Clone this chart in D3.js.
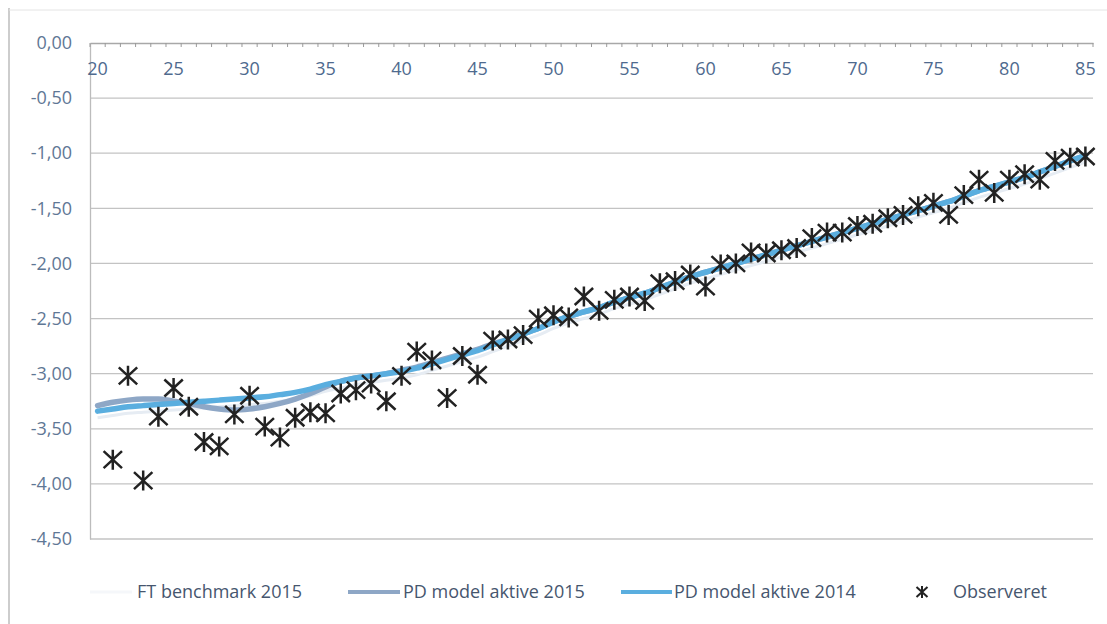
<!DOCTYPE html>
<html><head><meta charset="utf-8">
<script src="https://cdn.jsdelivr.net/npm/d3@7"></script>
<style>
html,body{margin:0;padding:0;background:#fff;}
svg{display:block;font-family:"Open Sans",sans-serif;}
</style></head>
<body>
<svg id="chart" width="1107" height="624"></svg>
<script>
const ages = d3.range(20, 86);
const yTicks = [0, -0.5, -1, -1.5, -2, -2.5, -3, -3.5, -4, -4.5];
const xLabelAges = [20,25,30,35,40,45,50,55,60,65,70,75,80,85];

const seriesNames = ["FT benchmark 2015", "PD model aktive 2015", "PD model aktive 2014", "Observeret"];

const ftBenchmark2015 = [-3.40,-3.38,-3.36,-3.35,-3.34,-3.33,-3.32,-3.31,-3.30,-3.29,-3.28,-3.27,-3.25,-3.23,-3.20,-3.16,-3.13,-3.10,-3.08,-3.06,-3.04,-3.01,-2.97,-2.93,-2.89,-2.85,-2.80,-2.75,-2.70,-2.65,-2.59,-2.54,-2.50,-2.46,-2.41,-2.37,-2.33,-2.28,-2.23,-2.18,-2.14,-2.10,-2.06,-2.02,-1.98,-1.94,-1.90,-1.86,-1.82,-1.78,-1.74,-1.70,-1.66,-1.62,-1.58,-1.54,-1.50,-1.45,-1.40,-1.36,-1.32,-1.28,-1.23,-1.18,-1.13,-1.08];

const pdAktive2015 = [-3.29,-3.26,-3.24,-3.23,-3.23,-3.25,-3.27,-3.30,-3.32,-3.33,-3.32,-3.30,-3.27,-3.23,-3.18,-3.12,-3.07,-3.04,-3.02,-3.00,-2.97,-2.94,-2.90,-2.86,-2.82,-2.78,-2.73,-2.69,-2.64,-2.59,-2.53,-2.48,-2.44,-2.40,-2.35,-2.31,-2.27,-2.22,-2.17,-2.12,-2.08,-2.04,-2.00,-1.96,-1.92,-1.88,-1.84,-1.80,-1.76,-1.72,-1.68,-1.64,-1.60,-1.56,-1.52,-1.48,-1.44,-1.39,-1.34,-1.30,-1.26,-1.22,-1.17,-1.12,-1.07,-1.02];

const pdAktive2014 = [-3.34,-3.32,-3.30,-3.29,-3.28,-3.27,-3.26,-3.25,-3.24,-3.23,-3.22,-3.21,-3.19,-3.17,-3.14,-3.10,-3.07,-3.04,-3.02,-3.00,-2.98,-2.95,-2.91,-2.87,-2.83,-2.79,-2.74,-2.69,-2.64,-2.59,-2.53,-2.48,-2.44,-2.40,-2.35,-2.31,-2.27,-2.22,-2.17,-2.12,-2.08,-2.04,-2.00,-1.96,-1.92,-1.88,-1.84,-1.80,-1.76,-1.72,-1.68,-1.64,-1.60,-1.56,-1.52,-1.48,-1.44,-1.39,-1.34,-1.30,-1.26,-1.22,-1.17,-1.12,-1.07,-1.02];

const obsAges = d3.range(21, 86);
const observeret = [-3.78,-3.02,-3.97,-3.39,-3.13,-3.30,-3.62,-3.66,-3.37,-3.20,-3.48,-3.58,-3.40,-3.35,-3.36,-3.18,-3.15,-3.09,-3.25,-3.02,-2.80,-2.88,-3.22,-2.84,-3.01,-2.70,-2.69,-2.65,-2.50,-2.47,-2.49,-2.30,-2.43,-2.33,-2.30,-2.34,-2.18,-2.16,-2.10,-2.21,-2.01,-2.00,-1.90,-1.91,-1.88,-1.86,-1.77,-1.72,-1.72,-1.66,-1.64,-1.59,-1.56,-1.48,-1.45,-1.56,-1.38,-1.24,-1.36,-1.24,-1.19,-1.24,-1.07,-1.04,-1.03];

const svg = d3.select("#chart");
const pL = 90, pR = 1093, pT = 43, pB = 539;
const x = d3.scaleBand().domain(ages).range([pL, pR]);
const y = d3.scaleLinear().domain([-4.5, 0]).range([pB, pT]);
const cx = a => x(a) + x.bandwidth() / 2;
const FS = 18;

// scan frame
svg.append("line").attr("x1", 9).attr("x2", 9).attr("y1", 8).attr("y2", 624).attr("stroke", "#bdbdbd").attr("stroke-width", 1.5);
svg.append("line").attr("x1", 9).attr("x2", 1107).attr("y1", 10).attr("y2", 10).attr("stroke", "#e4e4e4").attr("stroke-width", 1);

// gridlines
svg.append("g").selectAll("line").data(yTicks.filter(v => v !== 0)).join("line")
  .attr("x1", pL).attr("x2", pR)
  .attr("y1", d => y(d)).attr("y2", d => y(d))
  .attr("stroke", "#c3c3c3").attr("stroke-width", 1.3);

// y axis
const yAxis = d3.axisLeft(y).tickValues(yTicks).tickSize(0).tickPadding(18)
  .tickFormat(d => d3.format(".2f")(d).replace(".", ",").replace("−", "-"));
const gy = svg.append("g").attr("transform", `translate(${pL},0)`).call(yAxis);
gy.select(".domain").attr("stroke", "#bcbcbc").attr("stroke-width", 1.3);
gy.selectAll("text").attr("fill", "#5f7795").attr("font-size", FS).attr("font-family", "Open Sans");

// x axis at top (y=0)
const xAxis = d3.axisBottom(x).tickValues(xLabelAges).tickSize(0).tickPadding(19);
const gx = svg.append("g").attr("transform", `translate(0,${y(0)})`).call(xAxis);
gx.select(".domain").attr("stroke", "#a8a8a8").attr("stroke-width", 1.3);
gx.selectAll("text").attr("fill", "#4f6a8e").attr("font-size", FS).attr("font-family", "Open Sans");
// minor tick marks between categories
svg.append("g").selectAll("line").data(ages.concat([86])).join("line")
  .attr("x1", d => d === 86 ? pR : x(d)).attr("x2", d => d === 86 ? pR : x(d))
  .attr("y1", y(0)).attr("y2", y(0) + 4)
  .attr("stroke", "#9a9a9a").attr("stroke-width", 1);

// lines
const line = d3.line().x((d, i) => cx(ages[i])).y(d => y(d)).curve(d3.curveMonotoneX);
svg.append("path").datum(ftBenchmark2015).attr("d", line)
  .attr("fill", "none").attr("stroke", "#e6ecf3").attr("stroke-width", 3);
svg.append("path").datum(pdAktive2015).attr("d", line)
  .attr("fill", "none").attr("stroke", "#8ea7c6").attr("stroke-width", 5.5).attr("stroke-linecap", "round");
svg.append("path").datum(pdAktive2014).attr("d", line)
  .attr("fill", "none").attr("stroke", "#5aaedf").attr("stroke-width", 5.5).attr("stroke-linecap", "round");

// star markers
const pts = svg.append("g").selectAll("g").data(observeret).join("g")
  .attr("transform", (d, i) => `translate(${cx(obsAges[i])},${y(d)})`);
pts.each(function () {
  const g = d3.select(this);
  const s = 20, r = s / 2, dx = r * 0.92;
  g.append("path")
    .attr("d", `M0,${-r}L0,${r}M${-dx},${-r*0.85}L${dx},${r*0.85}M${-dx},${r*0.85}L${dx},${-r*0.85}`)
    .attr("stroke", "#222").attr("stroke-width", 2.5).attr("fill", "none");
});

// legend
const lg = svg.append("g").attr("font-size", FS).attr("fill", "#46566e").attr("font-family", "Open Sans");
const ly = 592;
lg.append("line").attr("x1", 90).attr("x2", 132).attr("y1", ly).attr("y2", ly).attr("stroke", "#f5f7fa").attr("stroke-width", 3);
lg.append("text").attr("x", 137).attr("y", ly).attr("dy", "0.35em").text(seriesNames[0]);
lg.append("line").attr("x1", 348).attr("x2", 400).attr("y1", ly).attr("y2", ly).attr("stroke", "#8ea7c6").attr("stroke-width", 4);
lg.append("text").attr("x", 403).attr("y", ly).attr("dy", "0.35em").text(seriesNames[1]);
lg.append("line").attr("x1", 621).attr("x2", 672).attr("y1", ly).attr("y2", ly).attr("stroke", "#5aaedf").attr("stroke-width", 4);
lg.append("text").attr("x", 674).attr("y", ly).attr("dy", "0.35em").text(seriesNames[2]);
const ls = lg.append("g").attr("transform", `translate(922,${ly})`);
ls.append("path").attr("d", "M0,-6L0,6M-5.5,-5L5.5,5M-5.5,5L5.5,-5").attr("stroke", "#222").attr("stroke-width", 2).attr("fill", "none");
lg.append("text").attr("x", 953).attr("y", ly).attr("dy", "0.35em").text(seriesNames[3]);
</script>
</body></html>
